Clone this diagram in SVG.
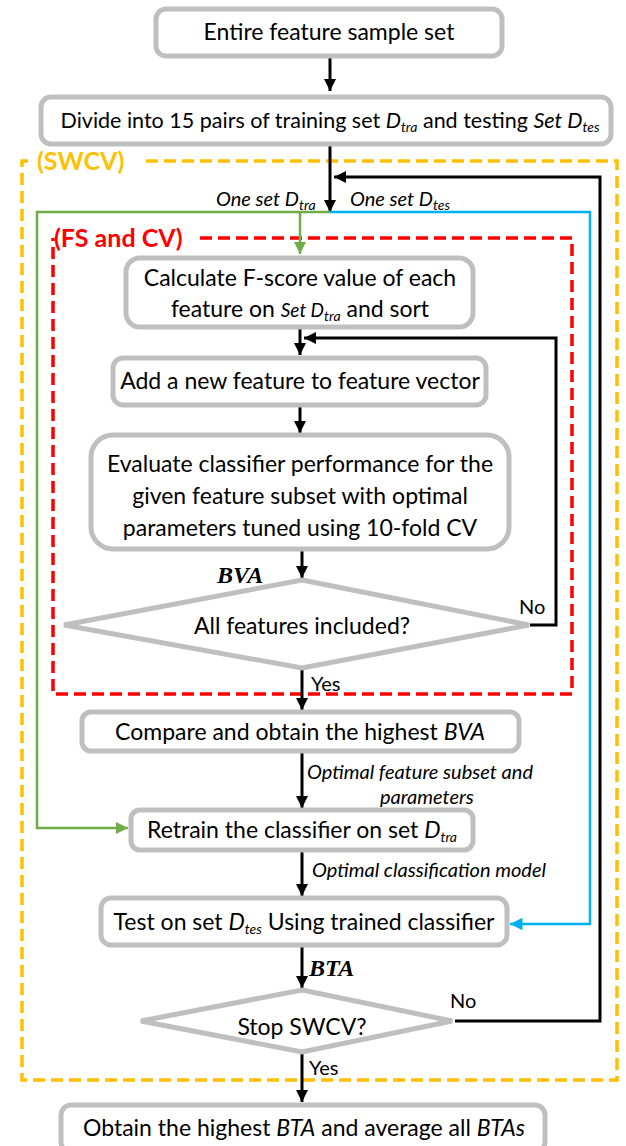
<svg xmlns="http://www.w3.org/2000/svg" width="626" height="1146" viewBox="0 0 626 1146">
  <style>
    .box { fill: #ffffff; stroke: #bfbfbf; stroke-width: 5; }
    .dia { fill: #ffffff; stroke: #bfbfbf; stroke-width: 5; }
    .t { font-family: Lato, "Open Sans", sans-serif; font-size: 23px; fill: #000000; text-anchor: middle; }
    .t.small { font-size: 21.5px; }
    .lbl { font-family: Lato, "Open Sans", sans-serif; font-size: 20px; font-style: italic; fill: #000000; }
    .yn { font-family: Lato, "Open Sans", sans-serif; font-size: 20px; fill: #000000; }
    .sub { font-size: 14px; font-style: italic; }
    .it { font-style: italic; }
    .serif { font-family: "Liberation Serif", serif; font-size: 24px; font-weight: bold; font-style: italic; fill: #000000; }
    .blk { fill: none; stroke: #000000; stroke-width: 3; }
    .grn { fill: none; stroke: #70ad47; stroke-width: 2.5; }
    .blu { fill: none; stroke: #00b0f0; stroke-width: 2.5; }
    .swcv { fill: none; stroke: #ffc000; stroke-width: 3.5; stroke-dasharray: 12 6; }
    .fscv { fill: none; stroke: #ff0000; stroke-width: 3.5; stroke-dasharray: 12 6; }
    .frame-lbl { font-family: Lato, "Open Sans", sans-serif; font-size: 25px; font-weight: bold; }
  </style>
  <defs>
    <marker id="ab" viewBox="0 0 10 10" refX="10" refY="5" markerWidth="4" markerHeight="4" markerUnits="strokeWidth" orient="auto">
      <path d="M0,0 L10,5 L0,10 z" fill="#000000"/>
    </marker>
    <marker id="ag" viewBox="0 0 10 10" refX="10" refY="5" markerWidth="5" markerHeight="5" markerUnits="strokeWidth" orient="auto">
      <path d="M0,0 L10,5 L0,10 z" fill="#70ad47"/>
    </marker>
    <marker id="ac" viewBox="0 0 10 10" refX="10" refY="5" markerWidth="5" markerHeight="5" markerUnits="strokeWidth" orient="auto">
      <path d="M0,0 L10,5 L0,10 z" fill="#00b0f0"/>
    </marker>
  </defs>

  <!-- dashed frames -->
  <g id="frame-swcv">
    <path class="swcv" d="M146,161 H617 V1080 H22 V161 H32"/>
    <text class="frame-lbl" x="37" y="170" fill="#ffc000">(SWCV)</text>
  </g>
  <g id="frame-fscv">
    <path class="fscv" d="M200,238 H572 V694 H53 V238"/>
    <text class="frame-lbl" x="54" y="247" fill="#ff0000">(FS and CV)</text>
  </g>

  <!-- connectors -->
  <g id="connectors">
    <line class="blk" x1="330" y1="57" x2="330" y2="91" marker-end="url(#ab)"/>
    <line class="blk" x1="330" y1="146" x2="330" y2="212" marker-end="url(#ab)"/>
    <path class="blk" d="M455,1021 H600 V177 H334" marker-end="url(#ab)"/>
    <path class="grn" d="M330,212 H37 V828 H128" marker-end="url(#ag)"/>
    <line class="grn" x1="300" y1="212" x2="300" y2="254" marker-end="url(#ag)"/>
    <path class="blu" d="M330,212 H590 V924 H510" marker-end="url(#ac)"/>
    <line class="blk" x1="300" y1="329" x2="300" y2="355" marker-end="url(#ab)"/>
    <path class="blk" d="M530,625 H556 V338 H304" marker-end="url(#ab)"/>
    <line class="blk" x1="300" y1="407" x2="300" y2="433" marker-end="url(#ab)"/>
    <line class="blk" x1="302" y1="551" x2="302" y2="578" marker-end="url(#ab)"/>
    <line class="blk" x1="302" y1="668" x2="302" y2="710" marker-end="url(#ab)"/>
    <line class="blk" x1="302" y1="752" x2="302" y2="808" marker-end="url(#ab)"/>
    <line class="blk" x1="302" y1="852" x2="302" y2="896" marker-end="url(#ab)"/>
    <line class="blk" x1="302" y1="947" x2="302" y2="988" marker-end="url(#ab)"/>
    <line class="blk" x1="302" y1="1054" x2="302" y2="1102" marker-end="url(#ab)"/>

    <text class="lbl" x="216" y="206">One set D<tspan class="sub" dy="4">tra</tspan></text>
    <text class="lbl" x="350" y="206">One set D<tspan class="sub" dy="4">tes</tspan></text>
    <text class="serif" x="217" y="583">BVA</text>
    <text class="yn" x="519" y="614">No</text>
    <text class="yn" x="311" y="691">Yes</text>
    <text class="lbl" x="307" y="779">Optimal feature subset and</text>
    <text class="lbl" x="380" y="804">parameters</text>
    <text class="lbl" x="312" y="877">Optimal classification model</text>
    <text class="serif" x="309" y="976">BTA</text>
    <text class="yn" x="450" y="1008">No</text>
    <text class="yn" x="309" y="1075">Yes</text>
  </g>

  <!-- nodes -->
  <g id="n-entire">
    <rect class="box" x="156" y="9" width="346" height="47" rx="10"/>
    <text class="t" x="329" y="40">Entire feature sample set</text>
  </g>
  <g id="n-divide">
    <rect class="box" x="41" y="97" width="570" height="47" rx="10"/>
    <text class="t small" x="330" y="128">Divide into 15 pairs of training set <tspan class="it">D</tspan><tspan class="sub" dy="4">tra</tspan><tspan dy="-4"> and testing </tspan><tspan class="it">Set D</tspan><tspan class="sub" dy="4">tes</tspan></text>
  </g>
  <g id="n-fscore">
    <rect class="box" x="126" y="258" width="347" height="69" rx="14"/>
    <text class="t" x="300" y="286">Calculate F-score value of each</text>
    <text class="t" x="300" y="317">feature on <tspan class="it" font-size="19">Set D</tspan><tspan class="sub" dy="4">tra</tspan><tspan dy="-4"> and sort</tspan></text>
  </g>
  <g id="n-add">
    <rect class="box" x="113" y="358" width="373" height="47" rx="10"/>
    <text class="t" x="300" y="389">Add a new feature to feature vector</text>
  </g>
  <g id="n-eval">
    <rect class="box" x="91" y="435" width="418" height="114" rx="22"/>
    <text class="t" x="300" y="472">Evaluate classifier performance for the</text>
    <text class="t" x="300" y="504">given feature subset with optimal</text>
    <text class="t" x="300" y="536">parameters tuned using 10-fold CV</text>
  </g>
  <g id="n-allincl">
    <polygon class="dia" points="302,580 529,625 302,668 64,625"/>
    <text class="t" x="302" y="634">All features included?</text>
  </g>
  <g id="n-compare">
    <rect class="box" x="82" y="712" width="437" height="39" rx="9"/>
    <text class="t" x="300" y="740">Compare and obtain the highest <tspan class="it">BVA</tspan></text>
  </g>
  <g id="n-retrain">
    <rect class="box" x="131" y="810" width="342" height="40" rx="9"/>
    <text class="t" x="302" y="838">Retrain the classifier on set <tspan class="it">D</tspan><tspan class="sub" dy="4">tra</tspan></text>
  </g>
  <g id="n-test">
    <rect class="box" x="101" y="898" width="406" height="47" rx="10"/>
    <text class="t" x="304" y="930">Test on set <tspan class="it">D</tspan><tspan class="sub" dy="4">tes</tspan><tspan dy="-4"> Using trained classifier</tspan></text>
  </g>
  <g id="n-stop">
    <polygon class="dia" points="302,990 452,1021 302,1052 141,1021"/>
    <text class="t" x="302" y="1035">Stop SWCV?</text>
  </g>
  <g id="n-final">
    <rect class="box" x="61" y="1105" width="484" height="47" rx="10"/>
    <text class="t" x="304" y="1136">Obtain the highest <tspan class="it">BTA</tspan> and average all <tspan class="it">BTAs</tspan></text>
  </g>
</svg>
